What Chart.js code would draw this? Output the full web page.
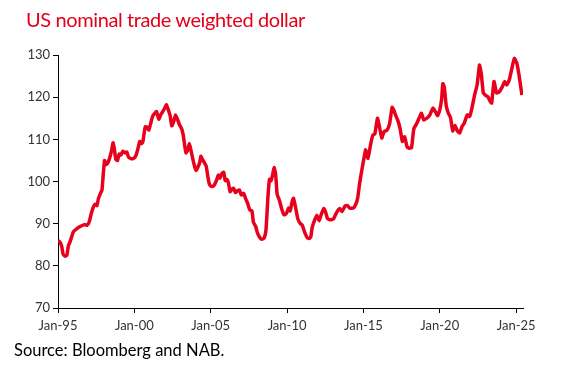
<!DOCTYPE html>
<html>
<head>
<meta charset="utf-8">
<script src="https://cdn.jsdelivr.net/npm/chart.js@4/dist/chart.umd.min.js"></script>
<style>
  body { margin: 0; background: #fff; }
  #wrap { position: relative; width: 564px; height: 373px; overflow: hidden; }
  #title { position: absolute; left: 26px; top: 7px; font-family: Lato, sans-serif; font-size: 20px; letter-spacing: -0.4px; color: #e3001b; white-space: nowrap; }
  #source { position: absolute; left: 14px; top: 340px; font-family: Lato, sans-serif; font-size: 16.5px; color: #000; white-space: nowrap; }
  canvas { position: absolute; left: 0; top: 0; }
</style>
</head>
<body>
<div id="wrap">
  <canvas id="chart" width="564" height="373"></canvas>
  <div id="title">US nominal trade weighted dollar</div>
  <div id="source">Source: Bloomberg and NAB.</div>
</div>
<script>
// dates as decimal years
const dates = [
  1995.0, 1995.13, 1995.25, 1995.33, 1995.45, 1995.58, 1995.68, 1995.8, 1996.0, 1996.3,
  1996.55, 1996.75, 1996.9, 1997.05, 1997.15, 1997.3, 1997.42, 1997.55, 1997.65, 1997.78,
  1997.88, 1997.98, 1998.05, 1998.15, 1998.28, 1998.4, 1998.52, 1998.6, 1998.68, 1998.78,
  1998.9, 1999.0, 1999.12, 1999.25, 1999.38, 1999.5, 1999.62, 1999.75, 1999.88, 2000.0,
  2000.12, 2000.25, 2000.35, 2000.45, 2000.55, 2000.62, 2000.72, 2000.85, 2000.95, 2001.05,
  2001.2, 2001.35, 2001.45, 2001.6, 2001.75, 2001.85, 2002.0, 2002.1, 2002.22, 2002.35,
  2002.45, 2002.6, 2002.7, 2002.82, 2002.95, 2003.1, 2003.2, 2003.3, 2003.38, 2003.5,
  2003.6, 2003.7, 2003.82, 2003.95, 2004.05, 2004.15, 2004.28, 2004.35, 2004.45, 2004.55,
  2004.7, 2004.82, 2004.92, 2005.05, 2005.2, 2005.35, 2005.5, 2005.6, 2005.72, 2005.85,
  2005.95, 2006.05, 2006.15, 2006.27, 2006.4, 2006.5, 2006.62, 2006.75, 2006.88, 2007.0,
  2007.15, 2007.3, 2007.42, 2007.55, 2007.7, 2007.8, 2007.95, 2008.05, 2008.2, 2008.35,
  2008.5, 2008.62, 2008.75, 2008.85, 2008.95, 2009.05, 2009.15, 2009.25, 2009.35, 2009.5,
  2009.65, 2009.8, 2009.95, 2010.1, 2010.2, 2010.35, 2010.42, 2010.55, 2010.7, 2010.85,
  2011.0, 2011.15, 2011.3, 2011.45, 2011.55, 2011.65, 2011.8, 2011.95, 2012.1, 2012.25,
  2012.4, 2012.52, 2012.65, 2012.85, 2013.05, 2013.25, 2013.45, 2013.6, 2013.8, 2013.95,
  2014.1, 2014.35, 2014.5, 2014.62, 2014.75, 2014.9, 2015.05, 2015.15, 2015.3, 2015.48,
  2015.62, 2015.75, 2015.92, 2016.05, 2016.2, 2016.35, 2016.55, 2016.72, 2016.88, 2016.98,
  2017.1, 2017.25, 2017.4, 2017.55, 2017.7, 2017.85, 2018.0, 2018.15, 2018.3, 2018.5,
  2018.7, 2018.8, 2018.95, 2019.15, 2019.35, 2019.55, 2019.7, 2019.85, 2020.0, 2020.12,
  2020.2, 2020.3, 2020.42, 2020.55, 2020.7, 2020.85, 2021.0, 2021.15, 2021.3, 2021.45,
  2021.6, 2021.8, 2021.95, 2022.1, 2022.28, 2022.45, 2022.6, 2022.72, 2022.85, 2022.98,
  2023.15, 2023.3, 2023.4, 2023.55, 2023.72, 2023.88, 2024.1, 2024.25, 2024.38, 2024.55,
  2024.72, 2024.88, 2025.05, 2025.2, 2025.38
];
const usdIndex = [
  86.0, 85.6, 84.5, 82.8, 82.3, 82.5, 84.8, 85.8, 88.0, 89.0,
  89.5, 89.8, 89.6, 90.5, 92.0, 93.8, 94.6, 94.3, 96.0, 97.2,
  98.0, 102.5, 105.0, 104.0, 104.5, 105.8, 107.5, 109.2, 108.0, 105.3,
  105.0, 106.5, 106.3, 107.2, 106.8, 107.0, 105.8, 105.5, 105.4, 105.6,
  106.3, 108.0, 109.5, 109.0, 109.3, 111.0, 113.0, 112.8, 112.2, 113.5,
  115.5, 116.2, 116.6, 114.8, 116.0, 116.5, 117.5, 118.2, 117.0, 115.5,
  113.2, 114.5, 115.8, 114.8, 113.5, 112.5, 111.0, 108.5, 106.8, 107.5,
  109.0, 107.5, 105.5, 103.5, 102.6, 103.3, 104.5, 106.0, 105.3, 104.7,
  103.7, 101.0, 99.3, 98.8, 99.0, 100.0, 101.5, 100.8, 101.8, 102.2,
  100.2, 100.5, 99.8, 97.6, 98.2, 98.4, 97.4, 97.8, 98.0, 96.8,
  97.2, 95.8, 94.8, 93.3, 93.0, 90.3, 89.3, 87.9, 86.8, 86.3,
  86.6, 88.5, 96.5, 100.5, 100.2, 101.5, 103.3, 101.8, 97.0, 95.5,
  93.5, 92.1, 92.4, 93.7, 93.0, 95.5, 96.0, 94.0, 91.2, 90.1,
  89.6, 88.0, 86.8, 86.5, 86.8, 89.2, 90.8, 92.0, 90.7, 92.3,
  93.6, 92.8, 91.2, 90.9, 91.2, 92.7, 93.6, 92.9, 94.2, 94.3,
  93.7, 93.7, 94.6, 96.0, 99.5, 102.8, 105.8, 107.5, 105.5, 109.0,
  111.0, 111.3, 115.0, 113.0, 110.3, 111.8, 112.2, 113.8, 117.6, 117.0,
  115.8, 114.5, 112.6, 109.5, 110.6, 108.3, 107.9, 108.0, 112.5, 113.8,
  115.5, 116.2, 114.6, 115.0, 115.8, 117.4, 116.6, 115.6, 117.0, 119.5,
  123.2, 122.3, 118.0, 116.3, 115.2, 112.0, 113.3, 112.0, 111.5, 113.0,
  113.8, 115.8, 115.4, 117.3, 120.5, 123.0, 127.6, 125.5, 121.0, 120.5,
  120.1, 119.0, 118.6, 123.7, 121.0, 121.2, 122.5, 123.7, 122.9, 124.1,
  126.8, 129.2, 128.0, 125.0, 120.5
];
const xTicks = [1995, 2000, 2005, 2010, 2015, 2020, 2025];
const yMin = 70, yMax = 130, yStep = 10;

const points = dates.map((d, i) => ({x: d, y: usdIndex[i]}));
const tickFont = {family: 'Lato, sans-serif', size: 13};

new Chart(document.getElementById('chart'), {
  type: 'line',
  data: {
    datasets: [{
      data: points,
      borderColor: '#e8001c',
      borderWidth: 3.5,
      pointRadius: 0,
      tension: 0.15,
      fill: false
    }]
  },
  options: {
    responsive: false,
    animation: false,
    events: [],
    layout: {padding: {left: 0, top: 55, right: 41, bottom: 0}},
    plugins: {legend: {display: false}, tooltip: {enabled: false}},
    scales: {
      x: {
        type: 'linear',
        min: 1995,
        max: 2025.45,
        afterBuildTicks: scale => { scale.ticks = xTicks.map(v => ({value: v})); },
        afterFit: scale => { scale.height = 65; },
        grid: {display: true, drawOnChartArea: false, drawTicks: true, tickLength: 5, color: '#000'},
        border: {display: true, color: '#000', width: 1},
        ticks: {
          font: tickFont, color: '#333', padding: 5, maxRotation: 0, autoSkip: false,
          callback: v => 'Jan-' + String(v % 100).padStart(2, '0')
        }
      },
      y: {
        min: yMin,
        max: yMax,
        afterFit: scale => { scale.width = 58; },
        grid: {display: true, drawOnChartArea: false, drawTicks: true, tickLength: 5, color: '#000'},
        border: {display: true, color: '#000', width: 1},
        ticks: {stepSize: yStep, font: tickFont, color: '#333', padding: 3}
      }
    }
  }
});
</script>
</body>
</html>
